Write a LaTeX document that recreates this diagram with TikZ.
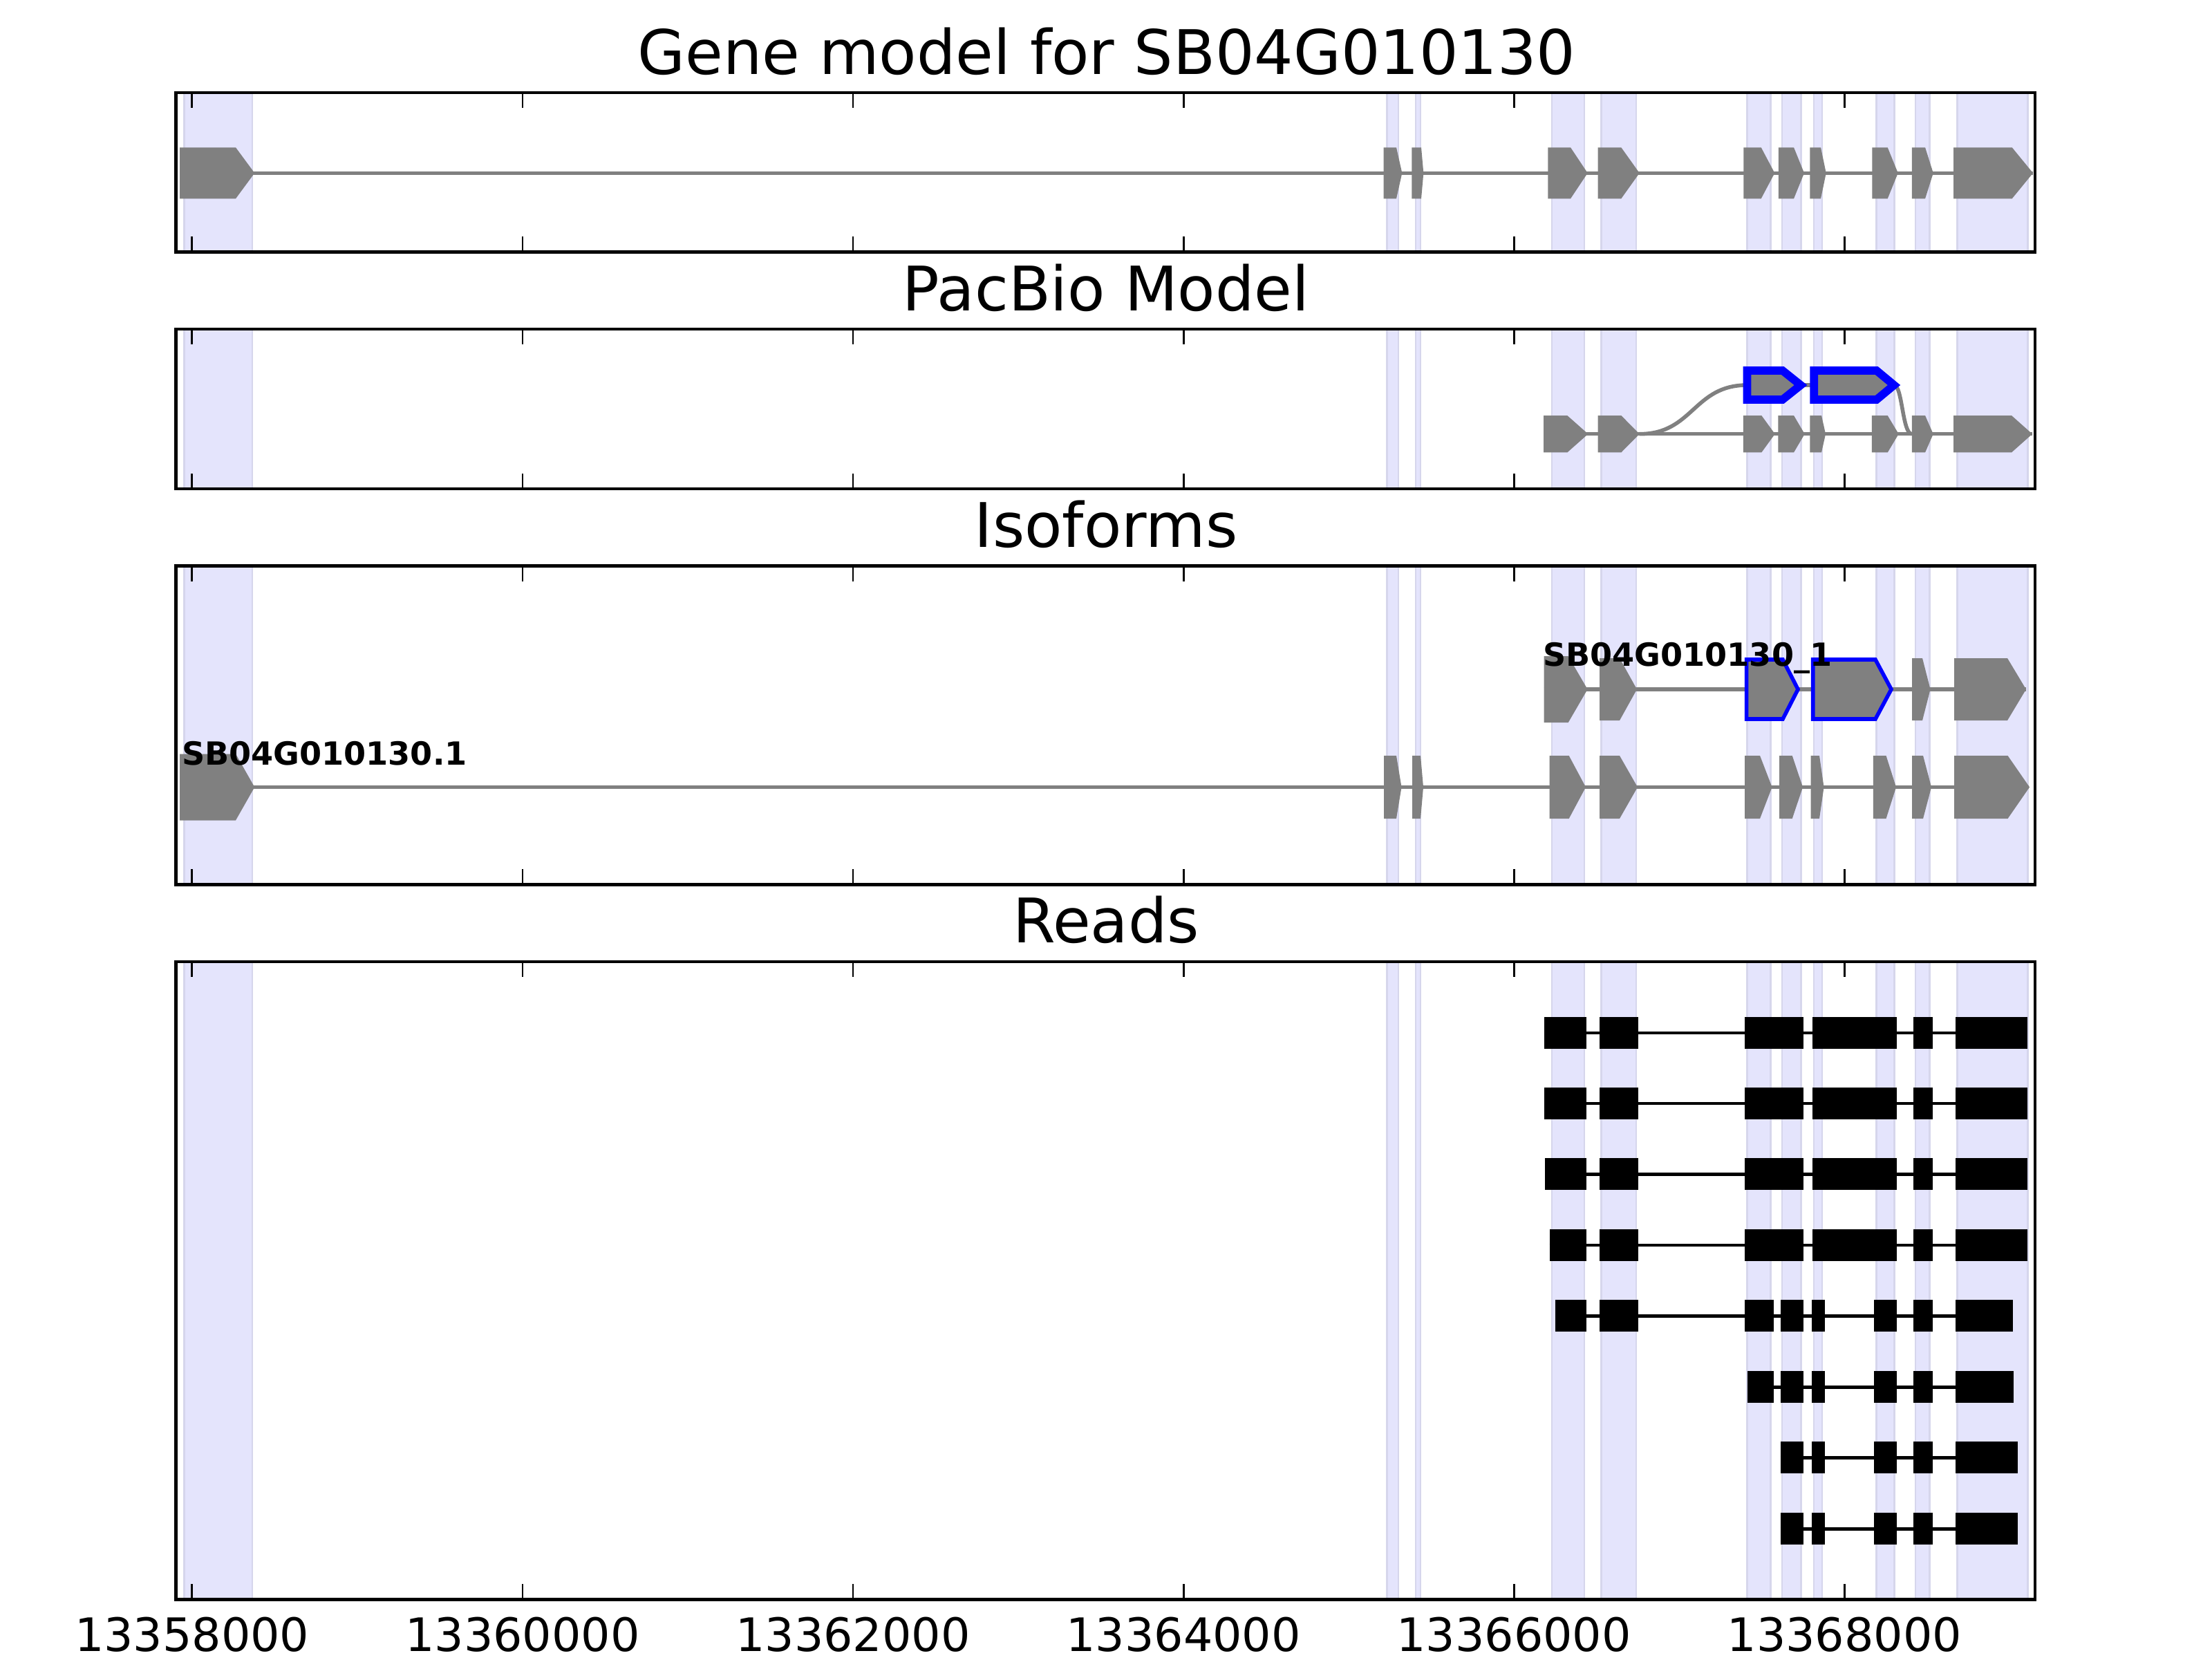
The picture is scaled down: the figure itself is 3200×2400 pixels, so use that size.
\documentclass[tikz,border=0pt]{standalone}
\usepackage{fontspec}
\setmainfont{DejaVu Sans}
\definecolor{bandfill}{RGB}{228,228,252}
\definecolor{bandedge}{RGB}{214,214,236}
\definecolor{exgray}{RGB}{128,128,128}
\definecolor{exblue}{RGB}{0,0,255}
\newcommand{\gexon}[6]{\path[#6] (#1,{#4-#5}) -- (#2,{#4-#5}) -- (#3,#4) -- (#2,{#4+#5}) -- (#1,{#4+#5}) -- cycle;}
\newcommand{\readrow}[4]{\draw[readline] (#2,#1) -- (#3,#1);
  \foreach \ra/\rb in {#4} {\fill[black] (\ra,{#1-23}) rectangle (\rb,{#1+23});}}
\begin{document}
\begin{tikzpicture}[x=0.18pt,y=-0.18pt,
  spine/.style={line width=0.8pt,draw=black},
  tickmark/.style={line width=0.5pt,draw=black},
  band/.style={fill=bandfill,draw=bandedge,line width=0.5pt},
  intron/.style={draw=exgray,line width=1pt},
  readline/.style={draw=black,line width=0.8pt},
  gfill/.style={fill=exgray},
  bluethick/.style={fill=exgray,draw=exblue,line width=2.1pt,line join=miter},
  bluethin/.style={fill=exgray,draw=exblue,line width=1pt,line join=miter},
  ptitle/.style={anchor=base,inner sep=0pt,font=\fontsize{16}{19}\selectfont},
  ticklab/.style={anchor=base,inner sep=0pt,font=\fontsize{12}{14}\selectfont},
  isolab/.style={anchor=base west,inner sep=0pt,font=\fontsize{8.3}{10}\selectfont\bfseries}
]
\useasboundingbox (0,0) rectangle (3200,2400);
\fill[white] (0,0) rectangle (3200,2400);

% ---------- highlight bands in every panel ----------
\foreach \t/\u in {134/364.6, 476.2/706.8, 818.4/1279.6, 1391.2/2313.6} {
  \foreach \a/\b in {266.7/365, 2006.7/2023, 2048/2055, 2245/2292, 2316.5/2367,
                     2527.5/2561.5, 2578/2605.7, 2624/2636, 2714.5/2740.3,
                     2771/2791.5, 2831.5/2933.3} {
    \path[band] (\a,\t) rectangle (\b,\u);
  }
}

% ---------- Panel 1: gene model ----------
\draw[intron] (260,250.3) -- (2941,250.3);
\foreach \p/\q/\r in {260/341/368.3, 2001.7/2020/2028.3, 2042.3/2056/2059.3,
                      2239.3/2272/2296.7, 2311.7/2345.3/2371.7, 2522.3/2547.7/2567.3,
                      2572.7/2595/2610, 2618.3/2634/2641.7, 2708.3/2730.7/2745.7,
                      2765.7/2785/2796.7, 2826/2910.7/2941} {
  \gexon{\p}{\q}{\r}{250.3}{37}{gfill}
}

% ---------- Panel 2: PacBio model ----------
\draw[intron] (2233.2,627.7) -- (2940,627.7);
\draw[intron] (2371.7,627.7) .. controls (2449.6,627.7) and (2449.6,557) .. (2527.5,557);
\draw[intron] (2740,557) .. controls (2752,557) and (2752,627.7) .. (2765.7,627.7);
\draw[intron] (2605,557) -- (2624.2,557);
\foreach \p/\q/\r in {2233.2/2267.3/2297.4, 2311.7/2345.3/2371.7, 2521.7/2548.3/2567.7,
                      2572.3/2595/2610.7, 2618.3/2635/2641, 2707.7/2730.7/2746.7,
                      2765.7/2785/2796.7, 2826/2910/2940} {
  \gexon{\p}{\q}{\r}{627.7}{26.7}{gfill}
}
\gexon{2527.5}{2578.7}{2605}{557}{21}{bluethick}
\gexon{2624.2}{2714.7}{2740}{557}{21}{bluethick}

% ---------- Panel 3: isoforms ----------
% upper isoform
\draw[intron] (2233.6,997) -- (2931,997);
\gexon{2233.6}{2268.7}{2296.6}{997}{48}{gfill}
\foreach \p/\q/\r in {2314/2343/2368, 2766/2781/2792.5, 2827/2904/2931} {
  \gexon{\p}{\q}{\r}{997}{45}{gfill}
}
\gexon{2526.5}{2579}{2601}{997}{43}{bluethin}
\gexon{2622.7}{2713}{2736}{997}{43}{bluethin}
% lower isoform
\draw[intron] (260,1138.5) -- (2935,1138.5);
\gexon{260}{341}{368.3}{1138.5}{48}{gfill}
\foreach \p/\q/\r in {2002/2020/2027.5, 2043/2055/2059, 2241.7/2269.7/2294, 2314/2343/2369,
                      2524/2546/2563.5, 2574/2592.7/2608, 2619.6/2632/2638.5,
                      2709.7/2728.5/2743, 2766/2782/2794, 2827/2904.5/2936} {
  \gexon{\p}{\q}{\r}{1138.5}{45.5}{gfill}
}
\node[isolab] (lab2) at (2231,963.3) {SB04G010130\_1};
\node[isolab] (lab1) at (262,1106.7) {SB04G010130.1};

% ---------- Panel 4: reads ----------
\readrow{1493.7}{2234}{2933.4}{2234/2294.5, 2314/2369.7, 2523.8/2608.6, 2621.7/2744.4, 2768/2795.7, 2829.2/2933.4}
\readrow{1596.0}{2234}{2933.4}{2234/2294.5, 2314/2369.7, 2523.8/2608.6, 2621.7/2744.4, 2768/2795.7, 2829.2/2933.4}
\readrow{1698.3}{2235}{2933.4}{2235/2294.5, 2314/2369.7, 2523.8/2608.6, 2621.7/2744.4, 2768/2795.7, 2829.2/2933.4}
\readrow{1801.0}{2241.7}{2933.4}{2241.7/2294.5, 2314/2369.7, 2523.8/2608.6, 2621.7/2744.4, 2768/2795.7, 2829.2/2933.4}
\readrow{1903.3}{2250}{2911.6}{2250/2294.5, 2314/2369.7, 2523.8/2565.5, 2575.7/2608.6, 2621.2/2639.7, 2711.4/2744.4, 2768/2795.7, 2829.2/2911.6}
\readrow{2006.3}{2527.7}{2912.6}{2527.7/2565.5, 2575.7/2608.6, 2621.2/2639.7, 2711.4/2744.4, 2768/2795.7, 2829.2/2912.6}
\readrow{2108.3}{2575.7}{2919.4}{2575.7/2608.6, 2621.2/2639.7, 2711.4/2744.4, 2768/2795.7, 2829.2/2919.4}
\readrow{2211.3}{2575.7}{2919.4}{2575.7/2608.6, 2621.2/2639.7, 2711.4/2744.4, 2768/2795.7, 2829.2/2919.4}

% ---------- axes frames and ticks ----------
\foreach \t/\u in {134/364.6, 476.2/706.8, 818.4/1279.6, 1391.2/2313.6} {
  \foreach \k in {0,...,5} {
    \draw[tickmark] ({277.8+478.1*\k},\t) -- ++(0,22.2);
    \draw[tickmark] ({277.8+478.1*\k},\u) -- ++(0,-22.2);
  }
  \draw[spine] (254.5,\t) rectangle (2944,\u);
}

% ---------- titles ----------
\node[ptitle] (t1) at (1601,107.3) {Gene model for SB04G010130};
\node[ptitle] (t2) at (1600,449.2) {PacBio Model};
\node[ptitle] (t3) at (1600,791.4) {Isoforms};
\node[ptitle] (t4) at (1600,1363.8) {Reads};

% ---------- tick labels ----------
\foreach \k/\lab in {0/13358000, 1/13360000, 2/13362000, 3/13364000, 4/13366000, 5/13368000} {
  \node[ticklab] (tl\k) at ({277.8+478.1*\k},2388) {\lab};
}
\end{tikzpicture}
\end{document}
